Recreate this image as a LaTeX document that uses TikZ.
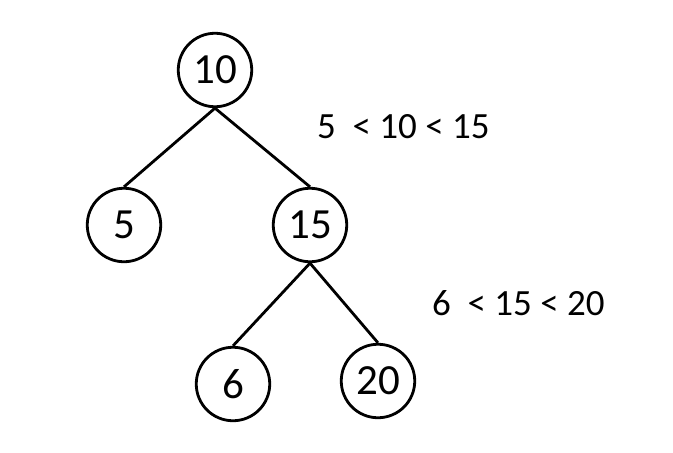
\documentclass[tikz,border=0pt]{standalone}
\usepackage{fontspec}
\setmainfont{Carlito}
\usetikzlibrary{positioning}

\begin{document}
\begin{tikzpicture}[
    x=1pt, y=-1pt,
    every node/.style={font=\fontsize{37}{44}\selectfont},
    keynode/.style={circle, draw, line width=2.8pt, minimum size=73.5pt, inner sep=0pt,
        font=\fontsize{43}{50}\selectfont},
    edge/.style={line width=2.8pt},
]
\useasboundingbox (0,0) rectangle (673,453);
% tree: 10 -> (5, 15), 15 -> (6, 20)
\node[keynode] (n10) at (215,70) {10};
\node[keynode] (n5) at (124,225) {5};
\node[keynode] (n15) at (310,225) {15};
\node[keynode] (n6) at (233,384) {6};
\node[keynode] (n20) at (378,381) {20};
\draw[edge] (n10.south) -- (n5.north);
\draw[edge] (n10.south) -- (n15.north);
\draw[edge] (n15.south) -- (n6.north);
\draw[edge] (n15.south) -- (n20.north);
% ordering notes
\node[anchor=base west, inner sep=0pt] (ord1) at (317,138) {5\ \ < 10 < 15};
\node[anchor=base west, inner sep=0pt] (ord2) at (432,315) {6\ \ < 15 < 20};
\end{tikzpicture}
\end{document}
